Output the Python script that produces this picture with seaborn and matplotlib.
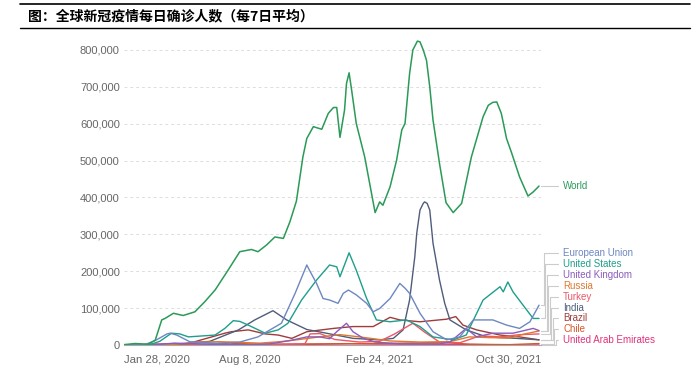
import matplotlib
matplotlib.use("Agg")
import matplotlib.pyplot as plt
import matplotlib.transforms as mtransforms
from matplotlib.lines import Line2D
from matplotlib.ticker import FuncFormatter
import seaborn as sns
import pandas as pd

# daily new cases, 7-day average (thousands), x = days since Jan 28, 2020
start = pd.Timestamp("2020-01-28")

world_days = [0, 17, 37, 48, 58, 63, 76, 91, 109, 124, 140, 160, 178, 196, 206, 219, 232, 245,
              255, 265, 275, 281, 291, 304, 314, 322, 327, 332, 339, 342, 346, 350, 357, 370,
              386, 393, 398, 409, 419, 427, 432, 439, 444, 451, 455, 460, 465, 470, 475, 485,
              495, 506, 519, 534, 552, 560, 567, 573, 580, 588, 596, 608, 621, 629, 638]
world_vals = [1, 4, 2, 13, 68, 72, 86, 80, 90, 117, 149, 203, 253, 259, 253, 271, 293, 289,
              334, 390, 510, 560, 592, 585, 628, 644, 644, 563, 637, 709, 738, 690, 601, 510,
              359, 388, 379, 429, 501, 583, 601, 736, 800, 824, 822, 800, 772, 700, 610, 492,
              386, 359, 384, 510, 619, 650, 658, 659, 628, 560, 520, 456, 404, 415, 431]

eu_days = [0, 32, 48, 66, 71, 81, 101, 142, 178, 206, 242, 263, 281, 285, 296, 306, 316, 329,
           337, 345, 357, 373, 383, 393, 409, 424, 432, 439, 455, 475, 496, 516, 537, 567, 588,
           608, 624, 638]
eu_vals = [0, 1, 12, 30, 32, 27, 9, 5, 8, 22, 59, 140, 217, 203, 167, 126, 122, 113, 140, 149,
           136, 113, 90, 99, 126, 167, 154, 140, 86, 36, 14, 22, 68, 68, 54, 45, 63, 108]

us_days = [0, 40, 55, 73, 86, 99, 140, 155, 168, 178, 191, 217, 237, 252, 273, 296, 316, 327,
           332, 346, 357, 373, 388, 409, 434, 455, 475, 506, 526, 552, 578, 583, 590, 598, 619,
           629, 638]
us_vals = [0, 1, 10, 32, 30, 22, 27, 45, 66, 64, 54, 32, 41, 59, 122, 176, 217, 212, 185, 250,
           203, 126, 68, 63, 68, 50, 22, 14, 27, 122, 158, 144, 171, 144, 95, 72, 72]

uk_days = [0, 55, 78, 101, 147, 194, 224, 255, 281, 301, 316, 327, 342, 352, 368, 386, 424,
           485, 501, 526, 542, 567, 598, 629, 638]
uk_vals = [0, 2, 5, 4, 1, 1, 3, 12, 22, 22, 17, 36, 59, 36, 18, 8, 3, 3, 8, 45, 22, 32, 32, 45,
           39]

russia_days = [0, 71, 117, 147, 209, 240, 270, 301, 332, 362, 409, 455, 501, 531, 562, 593,
               616, 638]
russia_vals = [0, 1, 8, 9, 5, 9, 15, 22, 28, 22, 11, 8, 9, 22, 20, 19, 30, 38]

turkey_days = [0, 78, 117, 209, 255, 278, 286, 301, 324, 362, 393, 416, 444, 462, 485, 516,
               531, 547, 578, 608, 638]
turkey_vals = [0, 4, 1, 1, 2, 3, 30, 31, 15, 8, 10, 30, 59, 35, 8, 6, 15, 25, 22, 28, 30]

india_days = [0, 86, 132, 176, 201, 229, 250, 281, 311, 352, 393, 414, 429, 439, 447, 450,
              455, 460, 462, 466, 470, 475, 485, 493, 501, 526, 557, 603, 638]
india_vals = [0, 2, 10, 41, 68, 93, 68, 42, 32, 18, 14, 18, 41, 122, 239, 303, 366, 384, 388,
              384, 366, 276, 176, 113, 68, 41, 22, 18, 14]

brazil_days = [0, 78, 101, 135, 155, 165, 191, 217, 237, 258, 281, 322, 352, 383, 409, 424,
               455, 496, 510, 521, 542, 578, 608, 638]
brazil_vals = [0, 1, 5, 22, 32, 36, 41, 30, 27, 18, 36, 45, 50, 50, 75, 68, 63, 70, 77, 54, 41,
               27, 22, 14]

chile_days = [0, 117, 163, 209, 393, 455, 493, 531, 593, 638]
chile_vals = [0, 2, 5, 2, 4, 6, 7, 2, 1, 4]

uae_days = [0, 163, 270, 347, 393, 516, 593, 638]
uae_vals = [0, 1, 1.2, 3.5, 2.5, 2, 0.1, 0.1]

countries = ["World", "European Union", "United States", "United Kingdom", "Russia", "Turkey",
             "India", "Brazil", "Chile", "United Arab Emirates"]
series_days = [world_days, eu_days, us_days, uk_days, russia_days, turkey_days, india_days,
               brazil_days, chile_days, uae_days]
series_vals = [world_vals, eu_vals, us_vals, uk_vals, russia_vals, turkey_vals, india_vals,
               brazil_vals, chile_vals, uae_vals]

tick_dates = ["2020-01-28", "2020-08-08", "2021-02-24", "2021-10-30"]
tick_labels = ["Jan 28, 2020", "Aug 8, 2020", "Feb 24, 2021", "Oct 30, 2021"]
y_ticks = [0, 100000, 200000, 300000, 400000, 500000, 600000, 700000, 800000]

palette = {
    "World": "#2a9a58",
    "European Union": "#6d87c0",
    "United States": "#1e9e8c",
    "United Kingdom": "#8a5cbd",
    "Russia": "#e0782f",
    "Turkey": "#ec5667",
    "India": "#4f5d7a",
    "Brazil": "#9e3c3a",
    "Chile": "#d9562a",
    "United Arab Emirates": "#e0327a",
}

rows = []
for name, days, vals in zip(countries, series_days, series_vals):
    for d, v in zip(days, vals):
        rows.append({"country": name, "date": start + pd.Timedelta(days=d), "cases": v * 1000})
df = pd.DataFrame(rows)

sns.set_style("white")
plt.rcParams["font.family"] = ["Liberation Sans", "DejaVu Sans"]

fig = plt.figure(figsize=(6.96, 3.73), dpi=100)
ax = fig.add_axes([124 / 696, 28 / 373, 417 / 696, 306.1 / 373])

# small countries drawn first, World last-but-visible
for name in countries[::-1]:
    sub = df[df["country"] == name]
    sns.lineplot(data=sub, x="date", y="cases", color=palette[name],
                 linewidth=1.1 if name == "World" else 1.0, ax=ax, errorbar=None,
                 legend=False)

ax.set_ylim(0, 830000)
ax.set_xlim(pd.Timestamp(tick_dates[0]), pd.Timestamp(tick_dates[-1]))
ax.set_yticks(y_ticks)
ax.yaxis.set_major_formatter(FuncFormatter(lambda v, p: f"{v:,.0f}"))
ax.set_xticks([pd.Timestamp(t) for t in tick_dates])
ax.set_xticklabels(tick_labels)
ax.set_xlabel("")
ax.set_ylabel("")
ax.grid(axis="y", linestyle=(0, (3, 3)), color="#dddddd", linewidth=0.7)
ax.grid(axis="x", visible=False)
for s in ["top", "right", "left"]:
    ax.spines[s].set_visible(False)
ax.spines["bottom"].set_color("#aaaaaa")
ax.spines["bottom"].set_linewidth(0.8)
ax.tick_params(axis="y", length=0, pad=3, labelsize=8, labelcolor="#666666")
ax.tick_params(axis="x", length=4, width=0.8, color="#aaaaaa", direction="out", pad=3,
               labelsize=8.2, labelcolor="#666666")
xt = ax.get_xticklabels()
xt[0].set_ha("left")
xt[-1].set_ha("right")

# line labels with connectors
trans = mtransforms.blended_transform_factory(ax.transAxes, ax.transData)
label_x = (563 - 124) / 417
conn_end = (558 - 124) / 417
world_y = world_vals[-1] * 1000
ax.plot([1.0, conn_end], [world_y, world_y], transform=trans, color="#cccccc", lw=0.8,
        clip_on=False)
ax.text(label_x, world_y, "World", transform=trans, color=palette["World"], fontsize=7,
        va="center", ha="left")

label_ys = [249000, 219500, 190000, 160500, 131000, 101500, 72000, 42500, 13000]
elbow_px = [543.5, 545, 546.5, 548, 549.5, 551, 552.5, 554, 555.5]
for name, ly, ex in zip(countries[1:], label_ys, elbow_px):
    idx = countries.index(name)
    end_y = series_vals[idx][-1] * 1000
    exf = (ex - 124) / 417
    ax.plot([1.0, exf, exf, conn_end], [end_y, end_y, ly, ly], transform=trans,
            color="#cccccc", lw=0.8, clip_on=False)
    ax.text(label_x, ly, name, transform=trans, color=palette[name], fontsize=7,
            va="center", ha="left")

# title with rules
fig.add_artist(Line2D([20 / 696, 690 / 696], [1 - 4 / 373, 1 - 4 / 373], color="black",
                      lw=1.2))
fig.add_artist(Line2D([20 / 696, 690 / 696], [1 - 28 / 373, 1 - 28 / 373], color="black",
                      lw=1.0))
fig.text(28 / 696, 1 - 16 / 373, "图：全球新冠疫情每日确诊人数（每7日平均）", fontsize=10,
         fontweight="bold", va="center", ha="left", color="black",
         family=["Noto Sans CJK SC", "DejaVu Sans"])

fig.savefig("out.png", dpi=100)
